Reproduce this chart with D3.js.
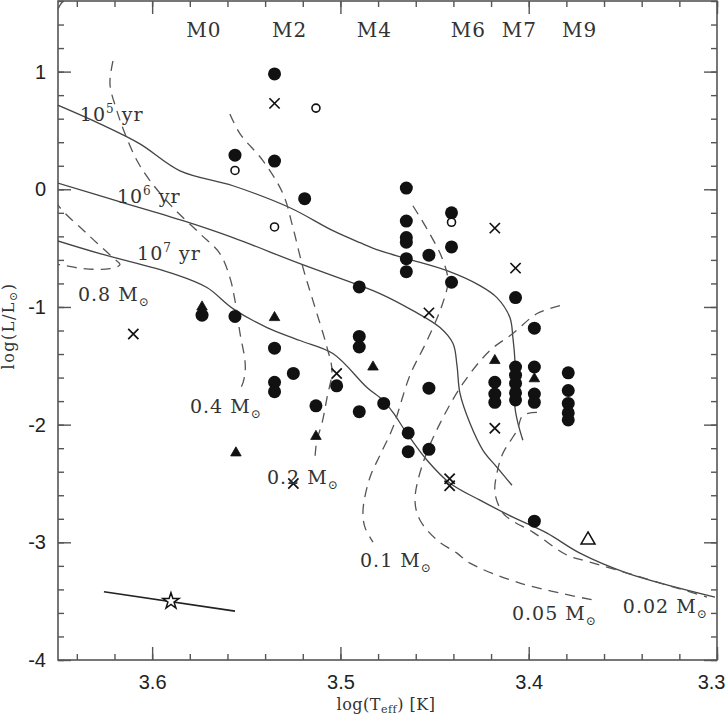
<!DOCTYPE html>
<html>
<head>
<meta charset="utf-8">
<script src="https://cdn.jsdelivr.net/npm/d3@7"></script>
<style>
  body { margin: 0; background: #fff; }
  .frame { fill: none; stroke: #555; stroke-width: 1.6; }
  .tick line { stroke: #555; stroke-width: 1.4; }
  .tick text { font-family: "Liberation Sans", Arial, sans-serif; font-size: 20px; fill: #222; }
  .domain { display: none; }
  .iso { fill: none; stroke: #444; stroke-width: 1.3; }
  .track { fill: none; stroke: #555; stroke-width: 1.3; stroke-dasharray: 10,7; }
  .lbl { font-family: "DejaVu Serif", serif; font-size: 19px; fill: #333; letter-spacing: 1px; }
  .sp { font-size: 20px; }
  .axtitle { font-family: "DejaVu Serif", serif; font-size: 16px; fill: #333; letter-spacing: 0.5px; }
</style>
</head>
<body>
<div id="canvas"></div>
<script>
// tick labels
var xMajor = [3.6, 3.5, 3.4, 3.3];
var yMajor = [1, 0, -1, -2, -3, -4];

// spectral types along the top
var spTypes = ["M0", "M2", "M4", "M6", "M7", "M9"];
var spTeff = [3.5725, 3.527, 3.482, 3.432, 3.405, 3.373];

// filled circles
var dotTeff = [3.535, 3.556, 3.535, 3.519, 3.465, 3.465, 3.465, 3.465, 3.465, 3.465,
  3.453, 3.441, 3.441, 3.441, 3.407, 3.397, 3.490, 3.490, 3.490, 3.5735,
  3.556, 3.535, 3.535, 3.535, 3.525, 3.513, 3.502, 3.490, 3.477, 3.453,
  3.464, 3.464, 3.453, 3.397, 3.418, 3.418, 3.418, 3.407, 3.407, 3.407,
  3.407, 3.407, 3.397, 3.397, 3.397, 3.379, 3.379, 3.379, 3.379, 3.379];
var dotLum = [0.98, 0.29, 0.24, -0.08, 0.01, -0.27, -0.41, -0.45, -0.59, -0.70,
  -0.56, -0.20, -0.49, -0.79, -0.92, -1.18, -0.83, -1.25, -1.34, -1.07,
  -1.08, -1.35, -1.64, -1.72, -1.565, -1.84, -1.67, -1.89, -1.82, -1.69,
  -2.07, -2.23, -2.21, -2.82, -1.64, -1.74, -1.81, -1.51, -1.58, -1.65,
  -1.73, -1.79, -1.51, -1.74, -1.81, -1.56, -1.71, -1.82, -1.90, -1.96];

// open circles
var ringTeff = [3.556, 3.535, 3.513, 3.441];
var ringLum = [0.16, -0.32, 0.69, -0.28];

// crosses
var crossTeff = [3.535, 3.610, 3.525, 3.502, 3.453, 3.418, 3.407, 3.418, 3.442, 3.442];
var crossLum = [0.73, -1.23, -2.50, -1.565, -1.05, -0.33, -0.67, -2.03, -2.46, -2.52];

// filled triangles
var triTeff = [3.5735, 3.535, 3.5555, 3.513, 3.4827, 3.418, 3.397];
var triLum = [-1.00, -1.09, -2.24, -2.10, -1.51, -1.455, -1.61];

// open triangle and star
var openTriTeff = [3.3685];
var openTriLum = [-2.98];
var starTeff = [3.590];
var starLum = [-3.50];
var starBarTeff = [3.6256, 3.556];
var starBarLum = [-3.42, -3.585];

// isochrones (solid)
var iso5Teff = [3.6505, 3.6277, 3.6065, 3.5852, 3.5571, 3.5268, 3.504, 3.4896, 3.479, 3.4647,
  3.4434, 3.4259, 3.4169, 3.41, 3.4084, 3.4073, 3.4078, 3.4073, 3.4057, 3.4031];
var iso5Lum = [0.717, 0.556, 0.386, 0.157, 0.03, -0.157, -0.352, -0.454, -0.522, -0.59,
  -0.692, -0.819, -0.921, -1.09, -1.26, -1.48, -1.667, -1.854, -1.989, -2.133];
var iso6Teff = [3.6505, 3.6187, 3.5836, 3.5571, 3.5215, 3.4896, 3.479, 3.4615, 3.4471, 3.4402,
  3.4381, 3.4365, 3.4312, 3.4243, 3.4169, 3.4089];
var iso6Lum = [0.055, -0.098, -0.267, -0.411, -0.632, -0.819, -0.886, -1.031, -1.175, -1.311,
  -1.497, -1.735, -1.989, -2.218, -2.362, -2.515];
var iso7Teff = [3.6505, 3.6277, 3.5889, 3.5709, 3.5571, 3.539, 3.5215, 3.504, 3.4859, 3.4774,
  3.4721, 3.4647, 3.454, 3.4418, 3.4259, 3.4084, 3.3903, 3.3728, 3.3478, 3.3011];
var iso7Lum = [-0.437, -0.547, -0.717, -0.835, -1.014, -1.175, -1.285, -1.396, -1.684, -1.794,
  -1.896, -2.074, -2.303, -2.498, -2.642, -2.786, -2.922, -3.092, -3.261, -3.465];

// mass tracks (dashed)
var trk08Teff = [3.6473, 3.6505, 3.6569, 3.6558, 3.6505, 3.6346, 3.6208, 3.6171, 3.6224, 3.6367, 3.6489, 3.6596];
var trk08Lum = [1.60, 1.514, 0.751, 0.072, -0.123, -0.377, -0.581, -0.64, -0.674, -0.674, -0.64, -0.623];
var trk04Teff = [3.6208, 3.6224, 3.6187, 3.6144, 3.608, 3.6011, 3.5889, 3.5746, 3.564, 3.5587,
  3.556, 3.5533, 3.5507, 3.5507, 3.5523, 3.5544];
var trk04Lum = [1.09, 0.895, 0.666, 0.471, 0.242, 0.072, -0.157, -0.377, -0.547, -0.751,
  -0.946, -1.226, -1.455, -1.565, -1.667, -1.709];
var trk02Teff = [3.5587, 3.5533, 3.5411, 3.5305, 3.5252, 3.5199, 3.5146, 3.5071, 3.5045, 3.5071,
  3.5098, 3.5125, 3.5135];
var trk02Lum = [0.64, 0.471, 0.242, -0.038, -0.327, -0.666, -0.946, -1.345, -1.54, -1.769,
  -1.989, -2.133, -2.277];
var trk01Teff = [3.4615, 3.4535, 3.4461, 3.4429, 3.4461, 3.454, 3.4631, 3.4721, 3.479, 3.4843,
  3.488, 3.487, 3.4827];
var trk01Lum = [-0.14, -0.352, -0.581, -0.776, -0.988, -1.285, -1.582, -2.023, -2.26, -2.447,
  -2.727, -2.871, -2.998];
var trk005Teff = [3.3834, 3.3956, 3.4084, 3.4206, 3.4349, 3.4471, 3.4562, 3.4604, 3.4577, 3.4487,
  3.4381, 3.4312, 3.4047, 3.3659];
var trk005Lum = [-0.988, -1.056, -1.226, -1.37, -1.65, -1.989, -2.328, -2.642, -2.812, -2.981,
  -3.092, -3.177, -3.346, -3.49];
var trk002Teff = [3.3956, 3.4031, 3.4062, 3.4137, 3.4169, 3.4179, 3.4137, 3.4084, 3.3978, 3.3797,
  3.3675, 3.3478, 3.3266, 3.3053];
var trk002Lum = [-1.896, -1.921, -2.048, -2.243, -2.413, -2.583, -2.752, -2.82, -2.913, -3.108,
  -3.168, -3.261, -3.363, -3.465];

var W = 727, H = 716;
var x = d3.scaleLinear().domain([3.65, 3.3]).range([58, 717]);
var y = d3.scaleLinear().domain([-4, 1.6]).range([660, 1]);

var svg = d3.select("#canvas").append("svg")
  .attr("width", W)
  .attr("height", H);

svg.append("clipPath").attr("id", "plotclip")
  .append("rect")
  .attr("x", x.range()[0]).attr("y", y.range()[1])
  .attr("width", x.range()[1] - x.range()[0])
  .attr("height", y.range()[0] - y.range()[1]);

// ticks on all four sides, pointing inward
function drawAxis(axis, t, vals, len, fmt, pad) {
  return svg.append("g")
    .attr("transform", t)
    .call(axis.tickValues(vals).tickSizeInner(-len).tickSizeOuter(0)
      .tickPadding(pad || 3).tickFormat(fmt));
}
var xMinor = x.ticks(20), yMinor = y.ticks(28);
var bottomT = "translate(0," + y.range()[0] + ")",
    topT = "translate(0," + y.range()[1] + ")",
    leftT = "translate(" + x.range()[0] + ",0)",
    rightT = "translate(" + x.range()[1] + ",0)";
var lab = function(d) { return String(d); };

drawAxis(d3.axisBottom(x), bottomT, xMinor, 6, "");
var xAx = drawAxis(d3.axisBottom(x), bottomT, xMajor, 13, lab, 15);
// last label sits on the window edge, keep it inside
xAx.selectAll("text").filter(function(d) { return d === 3.3; })
  .attr("text-anchor", "end").attr("dx", 8);
drawAxis(d3.axisTop(x), topT, xMinor, 6, "");
drawAxis(d3.axisTop(x), topT, xMajor, 13, "");
drawAxis(d3.axisLeft(y), leftT, yMinor, 6, "");
drawAxis(d3.axisLeft(y), leftT, yMajor, 13, lab, 12);
drawAxis(d3.axisRight(y), rightT, yMinor, 6, "");
drawAxis(d3.axisRight(y), rightT, yMajor, 13, "");

svg.append("rect").attr("class", "frame")
  .attr("x", x.range()[0]).attr("y", y.range()[1])
  .attr("width", x.range()[1] - x.range()[0])
  .attr("height", y.range()[0] - y.range()[1]);

var plot = svg.append("g").attr("clip-path", "url(#plotclip)");

var line = d3.line()
  .x(function(d) { return x(d[0]); })
  .y(function(d) { return y(d[1]); })
  .curve(d3.curveCatmullRom);

function pairs(a, b) { return a.map(function(v, i) { return [v, b[i]]; }); }

[[iso5Teff, iso5Lum], [iso6Teff, iso6Lum], [iso7Teff, iso7Lum]].forEach(function(s) {
  plot.append("path").attr("class", "iso").attr("d", line(pairs(s[0], s[1])));
});
[[trk08Teff, trk08Lum], [trk04Teff, trk04Lum], [trk02Teff, trk02Lum],
 [trk01Teff, trk01Lum], [trk005Teff, trk005Lum], [trk002Teff, trk002Lum]].forEach(function(s) {
  plot.append("path").attr("class", "track").attr("d", line(pairs(s[0], s[1])));
});

// the star with its bar
plot.append("path").attr("d", d3.line()(pairs(starBarTeff.map(x), starBarLum.map(y))))
  .attr("stroke", "#222").attr("stroke-width", 1.6).attr("fill", "none");

// symbols
plot.selectAll(".dot").data(pairs(dotTeff, dotLum)).enter().append("circle")
  .attr("cx", function(d) { return x(d[0]); })
  .attr("cy", function(d) { return y(d[1]); })
  .attr("r", 6.5).attr("fill", "#111");

plot.selectAll(".ring").data(pairs(ringTeff, ringLum)).enter().append("circle")
  .attr("cx", function(d) { return x(d[0]); })
  .attr("cy", function(d) { return y(d[1]); })
  .attr("r", 4).attr("fill", "#fff").attr("stroke", "#111").attr("stroke-width", 1.6);

function symbols(data, type, size, filled) {
  plot.selectAll(null).data(data).enter().append("path")
    .attr("transform", function(d) { return "translate(" + x(d[0]) + "," + y(d[1]) + ")"; })
    .attr("d", d3.symbol().type(type).size(size))
    .attr("fill", filled ? "#111" : "#fff")
    .attr("stroke", "#111")
    .attr("stroke-width", filled ? 0.8 : 1.5);
}
symbols(pairs(triTeff, triLum), d3.symbolTriangle, 48, true);
symbols(pairs(openTriTeff, openTriLum), d3.symbolTriangle, 85, false);
symbols(pairs(starTeff, starLum), d3.symbolStar, 80, false);

plot.selectAll(".cross").data(pairs(crossTeff, crossLum)).enter().append("path")
  .attr("transform", function(d) { return "translate(" + x(d[0]) + "," + y(d[1]) + ")"; })
  .attr("d", d3.symbol().type(d3.symbolTimes).size(70))
  .attr("fill", "none").attr("stroke", "#111").attr("stroke-width", 1.7);

// spectral type labels
svg.selectAll(".sp").data(spTypes).enter().append("text")
  .attr("class", "lbl sp")
  .attr("x", function(d, i) { return x(spTeff[i]); })
  .attr("y", 37)
  .attr("text-anchor", "middle")
  .text(function(d) { return d; });

// isochrone labels: 10^n yr
var isoLab = [["5", 3.6384, 0.58], ["6", 3.6187, -0.12], ["7", 3.608, -0.605]];
isoLab.forEach(function(l) {
  var t = svg.append("text").attr("class", "lbl")
    .attr("x", x(l[1])).attr("y", y(l[2]));
  t.append("tspan").text("10");
  t.append("tspan").attr("dy", -8).attr("font-size", 12).text(l[0]);
  t.append("tspan").attr("dy", 8).text(" yr");
});

// mass labels: m M_sun
var massLab = [["0.8", 3.6394, -0.946], ["0.4", 3.5799, -1.904], ["0.2", 3.539, -2.506],
  ["0.1", 3.4896, -3.21], ["0.05", 3.4089, -3.66], ["0.02", 3.35, -3.60]];
massLab.forEach(function(l) {
  var t = svg.append("text").attr("class", "lbl")
    .attr("x", x(l[1])).attr("y", y(l[2]));
  t.append("tspan").text(l[0] + " M");
  t.append("tspan").attr("dy", 5).attr("font-size", 12).text("\u2299");
});

// axis titles
var xt = svg.append("text").attr("class", "axtitle")
  .attr("x", 386).attr("y", 710).attr("text-anchor", "middle");
xt.append("tspan").text("log(T");
xt.append("tspan").attr("dy", 3).attr("font-size", 11).text("eff");
xt.append("tspan").attr("dy", -3).text(") [K]");

var yt = svg.append("text").attr("class", "axtitle")
  .attr("transform", "translate(14,326) rotate(-90)")
  .attr("text-anchor", "middle")
  .style("letter-spacing", "1.5px");
yt.append("tspan").text("log(L/L");
yt.append("tspan").attr("dy", 3).attr("font-size", 11).text("\u2299");
yt.append("tspan").attr("dy", -3).text(")");
</script>
</body>
</html>
